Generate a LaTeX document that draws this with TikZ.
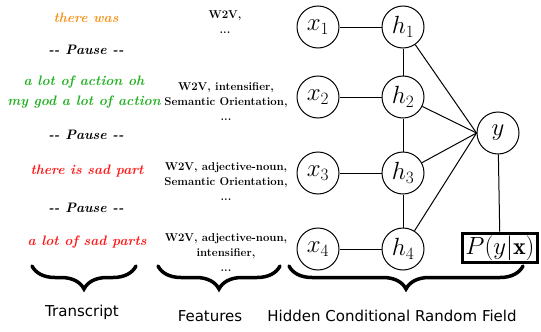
\documentclass[tikz,border=0pt]{standalone}
\usepackage{fontspec}
\newfontfamily\labfont{DejaVu Sans}
\usetikzlibrary{decorations.pathreplacing}
\definecolor{tOrange}{RGB}{247,148,29}
\definecolor{tGreen}{RGB}{34,177,34}
\definecolor{tRed}{RGB}{255,26,26}
\begin{document}
\begin{tikzpicture}[x=1pt,y=-1pt,
 var/.style={circle,draw,line width=1pt,minimum size=42pt,inner sep=0pt,font=\fontsize{24}{28}\selectfont},
 trans/.style={font=\fontsize{13.7}{20}\selectfont\bfseries\itshape,align=center},
 feat/.style={font=\fontsize{11.4}{15}\selectfont\bfseries,align=center},
 brc/.style={decorate,decoration={brace,mirror,amplitude=23pt},line width=3.5pt,line cap=round},
 lab/.style={font=\labfont\fontsize{15}{17}\selectfont},
 edge/.style={line width=1pt}]
\useasboundingbox (0,0) rectangle (541,332);
% transcript
\node[trans,text=tOrange] (t1) at (86,18) {there was};
\node[trans] (p1) at (86,50) {-{}- Pause -{}-};
\node[trans,text=tGreen] (t2) at (84,92) {a lot of action oh\\my god a lot of action};
\node[trans] (p2) at (86,135) {-{}- Pause -{}-};
\node[trans,text=tRed] (t3) at (87,171) {there is sad part};
\node[trans] (p3) at (86,208) {-{}- Pause -{}-};
\node[trans,text=tRed] (t4) at (87,242) {a lot of sad parts};
% features
\node[feat] (f1) at (225,22) {W2V,\\...};
\node[feat] (f2) at (226,102) {W2V, intensifier,\\Semantic Orientation,\\...};
\node[feat] (f3) at (226,182) {W2V, adjective-noun,\\Semantic Orientation,\\...};
\node[feat] (f4) at (226,253) {W2V, adjective-noun,\\intensifier,\\...};
% graph
\node[var] (x1) at (318,27) {$x_1$};
\node[var] (x2) at (318,97) {$x_2$};
\node[var] (x3) at (318,173) {$x_3$};
\node[var] (x4) at (318,249) {$x_4$};
\node[var] (h1) at (403,27) {$h_1$};
\node[var] (h2) at (403,97) {$h_2$};
\node[var] (h3) at (403,173) {$h_3$};
\node[var] (h4) at (403,249) {$h_4$};
\node[var] (y) at (498,133) {$y$};
\node[draw,line width=3pt,inner sep=2.5pt,font=\fontsize{24}{28}\selectfont] (p) at (500,248) {$P(y|\mathbf{x})$};
\foreach \i in {1,2,3,4}{
  \draw[edge] (x\i) -- (h\i);
  \draw[edge] (h\i) -- (y.west);
}
\draw[edge] (h1) -- (h2) -- (h3) -- (h4);
\draw[edge] (y) -- (p);
% braces
\draw[brc] (32,266) -- (136,266);
\draw[brc] (158,266) -- (280,266);
\draw[brc] (289,266) -- (523,266);
\node[lab] (l1) at (82,312) {Transcript};
\node[lab] (l2) at (210,316) {Features};
\node[lab] (l3) at (392,316) {Hidden Conditional Random Field};
\end{tikzpicture}
\end{document}
